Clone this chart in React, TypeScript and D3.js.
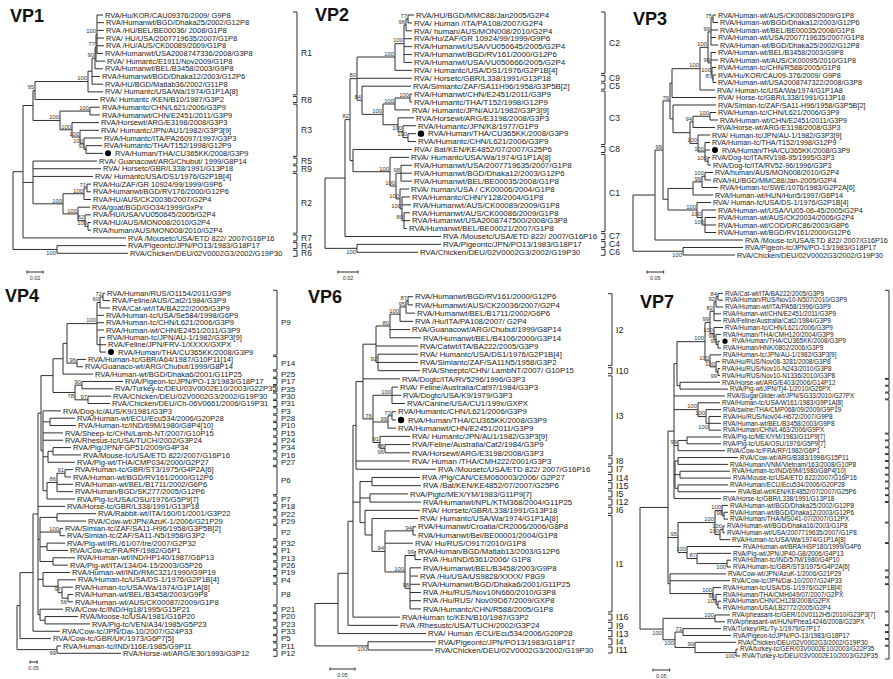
import React from "react";
import * as d3 from "d3";

const FONT = "'Liberation Sans', Arial, Helvetica, sans-serif";
const INK = "#2f2f2f";

// ---------------- VP1 ----------------
const VP1_LABELS = [
  "RVA/Hu/KOR/CAU09376/2009/ G9P8", "RVA/Humanwt/BGD/Dhaka25/2002/G12P8", "RVA /HU/BEL/BE00036/ 2008/G1P8",
  "RVA/ HU/USA/2007719635/2007/G1P8", "RVA /HU/AUS/CK00089/2009/G1P8", "RVA/Humanwt/USA2008747336/2008/G3P8",
  "RVA/ Humantc/E1911/Nov2009/G1P8", "RVA/Humanwt/BEL/B3458/2003/G9P8", "RVA/Humanwt/BGD/Dhaka12/2003/G12P6",
  "RVA/HU/BGD/Matlab36/2002/G11P8", "RVA/ Humantc/USA/Wa/1974/G1P1A[8]", "RVA/ Humantc /KEN/B10/1987/G3P2",
  "RVA/Humantc/CHN/L621/2006/G3P9", "RVA/Humanwt/CHN/E2451/2011/G3P9", "RVA/Horsewt/ARG/E3198/2008/G3P3",
  "RVA/ Humantc/JPN/AU1/1982/G3P3[9]", "RVA/Humantc/ITA/PA26097/1997/G3P3", "RVA/Humantc/THA/T152/1998/G12P9",
  "RVA/Human/THA/CU365KK/2008/G3P9", "RVA/ Guanacowt/ARG/Chubut/ 1999/G8P14", "RVA/ Horsetc/GBR/L338/1991/G13P18",
  "RVA/ Humantc/USA/DS1/1976/G2P1B[4]", "RVA/Hu/ZAF/GR 10924/99/1999/G9P6", "RVA/Humanwt/BGD/RV176/2000/G12P6",
  "RVA/HU/AUS/CK20036/2007/G2P4", "RVA/goat/BGD/GO34/1999/GxPx", "RVA/HU/USA/VU050645/2005/G2P4",
  "RVA/HU/AUS/MON008/2010/G2P4", "RVA/human/AUS/MON008/2010/G2P4", "RVA /Mousetc/USA/ETD 822/ 2007/G16P16",
  "RVA/Pigeontc/JPN/PO13/1983/G18P17", "RVA/Chicken/DEU/02V0002G3/2002/G19P30",
];
// branch lengths in substitutions/site x 1000
const VP1_R1 = "((((((0:7.5,1:8.75,2:8.75,3:8.75,4:8.75,5:7.5)100:1.25,6:11.25)77:1.25,7:10)90:3.75,8:10,9:13.75):5,10:18.75)100:66.25";
const VP1_R3 = "((12:12.5,13:12.5)100:37.5,(14:33.75,(15:23.75,(16:22.5,(17:20,18:21.25)91:2.5)100:5)100:10)100:15)100:33.75";
const VP1_R2 = "(((22:5,23:5)71:3.75,24:8.75)100:26.25,(25:15,(26:7.5,(27:3.75,28:3.75)100:3.75)82:8.75)100:18.75)100:37.5";
const VP1_TREE = "(((" + "(" + VP1_R1 + ",11:78.75)95:2.5," + VP1_R3 + "):12.5,(19:80,20:85,21:75," + VP1_R2 + "):12.5,29:128.75):12.5,(30:86.25,31:88.75)b100:55);";
const VP1_CLADES: [string, number, number][] = [
  ["R1", 0, 10], ["R8", 11, 11], ["R3", 12, 18], ["R5", 19, 19], ["R9", 20, 20], ["R2", 21, 28], ["R7", 29, 29], ["R4", 30, 30], ["R6", 31, 31],
];

// ---------------- VP2 ----------------
const VP2_LABELS = [
  "RVA/HU/BGD/MMC88/Jan2005/G2P4", "RVA/ Human /ITA/PA108/2007/G2P4", "RVA/ human/AUS/MON008/2010/G2P4",
  "RVA/Hu/ZAF/GR 10924/99/1999/G9P6", "RVA/Humanwt/USA/VU050645/2005/G2P4", "RVA/Humanwt/BGD/RV161/2000/G12P6",
  "RVA/Humanwt/USA/VU050666/2005/G2P4", "RVA/ Humantc/USA/DS1/1976/G2P1B[4]", "RVA/ Horsetc/GBR/L338/1991/G13P18",
  "RVA/Simiantc/ZAF/SA11H96/1958/G3P5B[2]", "RVA/Humanwt/CHN/E2451/2011/G3P9", "RVA/Humantc/THA/T152/1998/G12P9",
  "RVA/ Humantc/JPN/AU1/1982/G3P3[9]", "RVA/Horsewt/ARG/E3198/2008/G3P3", "RVA/Humantc/JPN/K8/1977/G1P9",
  "RVA/Human/THA/CU365KK/2008/G3P9", "RVA/Humantc/CHN/L621/2006/G3P9", "RVA/ Bat/KEN/KE4852/07/2007/G25P6",
  "RVA/ Humantc/USA/Wa/1974/G1P1A[8]", "RVA/Humanwt/USA/2007719635/2007/G1P8", "RVA/Humanwt/BGD/Dhaka12/2003/G12P6",
  "RVA/Humanwt/BEL/BE00035/2008/G1P8", "RVA/ human/USA / CK00006/2004/G1P8", "RVA/Humantc/CHN/Y128/2004/G1P8",
  "RVA/Humanwt/AUS/CK00089/2009/G1P8", "RVA/Humanwt/AUS/CK00086/2009/G1P8", "RVA/Humanwt/USA2008747500/2008/G3P8",
  "RVA/Humanwt/BEL/BE00021/2007/G1P8", "RVA /Mousetc/USA/ETD 822/ 2007/G16P16", "RVA/Pigeontc/JPN/PO13/1983/G18P17",
  "RVA/Chicken/DEU/02V0002G3/2002/G19P30",
];
const VP2_C2 = "((((0:6,1:4)77:2,2:6)96:2,3:8,4:8,5:8,6:8)100:9,7:17)100:38";
const VP2_C3 = "(9:49,(((10:2,11:2)100:15,12:15)100:12,(13:16,(14:13,(15:8,16:8)100:5)100:5):15)100:21)84:5";
const VP2_C1 = "(17:59,(18:19,((19:11,20:11,21:11)98:5,(22:9,(23:8,24:9,(25:6,26:6,27:3)80:2)100:2)100:4)100:6)100:37):3";
const VP2_TREE = "(((" + "(" + VP2_C2 + ",8:55," + VP2_C3 + ")80:7," + VP2_C1 + ")82:5,28:96):20,(29:84,30:61)b100:32);";
const VP2_CLADES: [string, number, number][] = [
  ["C2", 0, 7], ["C9", 8, 8], ["C5", 9, 9], ["C3", 10, 16], ["C8", 17, 17], ["C1", 18, 27], ["C7", 28, 28], ["C4", 29, 29], ["C6", 30, 30],
];

// ---------------- VP3 ----------------
const VP3_LABELS = [
  "RVA/Human-wt/AUS/CK00089/2009/G1P8", "RVA/Human-wt/BGD/Dhaka12/2003/G12P6", "RVA/Human-wt/BEL/BE00035/2008/G1P8",
  "RVA/Human-wt/USA/2007719635/2007/G1P8", "RVA/Human-wt/BGD/Dhaka25/2002/G12P8", "RVA/Human-wt/BEL/B3458/2003/G9P8",
  "RVA/Human-wt/AUS/CK00095/2010/G1P8", "RVA/Human-tc/CHN/R588/2005/G1P8", "RVA/Hu/KOR/CAU09-376/2009/ G9P8",
  "RVA/Human-wt/USA2008747322/2008/G3P8", "RVA/ Human-tc/USA/Wa/1974/G1P1A8", "RVA/ Horse-tc/GBR/L338/1991/G13P18",
  "RVA/Simian-tc/ZAF/SA11-H96/1958/G3P5B[2]", "RVA/Human-tc/CHN/L621/2006/G3P9", "RVA/Human-wt/CHN/E2451/2011/G3P9",
  "RVA/Horse-wt/ARG/E3198/2008/G3P3", "RVA/ Human-tc/JPN/AU-1/1982/G3P3[9]", "RVA/Human-tc/THA/T152/1998/G12P9",
  "RVA/Human/THA/CU365KK/2008/G3P9", "RVA/Dog-tc/ITA/RV198-95/1995/G3P3", "RVA/Dog-tc/ITA/RV52-96/1996/G3P3",
  "RVA/human/AUS/MON008/2010/G2P4", "RVA/HU/BGD/MMC88/Jan-2005/G2P4", "RVA/Human-tc/SWE/1076/1983/G2P2A[6]",
  "RVA/Human-wt/HUN/Hun5/1997/G6P14", "RVA/ Human-tc/USA/DS-1/1976/G2P1B[4]", "RVA/Human-wt/USA/VU05-06-45/2005/G2P4",
  "RVA/Human-wt/AUS/CK20034/2006/G2P4", "RVA/Human-wt/COD/DRC86/2003/G8P6", "RVA/Human-wt/BGD/RV161/2000/G12P6",
  "RVA /Mouse-tc/USA/ETD 822/ 2007/G16P16", "RVA/Pigeon-tc/JPN/PO-13/1983/G18P17", "RVA/Chicken/DEU/02V0002G3/2002/G19P30",
];
const VP3_M2 = "((((0:9,1:15)75:6,2:21,3:15,4:21)99:9,(5:15,6:21,(7:12,(8:9,9:9)87:3)100:3)99:9)100:24,10:45)100:84";
const VP3_M3 = "(12:129,(((13:18,14:24)100:51,15:66)94:9,(16:36,(17:15,18:15,(19:6,20:9)100:9)100:21)100:24):51):9";
const VP3_M1 = "((((21:24,22:18)100:9,23:48)99:27,24:60):75,(25:42,(26:42,(27:33,28:33,29:33)100:9)100:15)100:87):15";
const VP3_TREE = "(((((" + VP3_M2 + ",11:132):6," + VP3_M3 + ")79:21," + VP3_M1 + ")99:24,30:264):66,(31:180,32:156)b100:150);";

// ---------------- VP4 ----------------
const VP4_LABELS = [
  "RVA/Human/RUS/O1154/2011/G3P9", "RVA/Feline/AUS/Cat2/1984/G3P9", "RVA/Cat-wt/ITA/BA222/2005/G3P9",
  "RVA/Human-tc/USA/Se584/1998/G6P9", "RVA/Human-tc/CHN/L621/2006/G3P9", "RVA/Human-wt/CHN/E2451/2011/G3P9",
  "RVA/Human-tc/JPN/AU-1/1982/G3P3[9]", "RVA/Feline/JPN/FRV-1/XXXX/GXPX", "RVA/Human/THA/CU365KK/2008/G3P9",
  "RVA/Human-tc/GBR/A64/1987/G10P11[14]", "RVA/Guanaco-wt/ARG/Chubut/1999/G8P14", "RVA/Human-wt/BGD/Dhaka6/2001/G11P25",
  "RVA/Pigeon-tc/JPN/PO-13/1983/G18P17", "RVA/Turkey-tc/DEU/03V0002E10/2003/G22P35", "RVA/Chicken/DEU/02V0002G3/2002/G19P30",
  "RVA/Chicken/DEU/Ch-06V0661/2006/G19P31", "RVA/Dog-tc/AUS/K9/1981/G3P3", "RVA/Human-wt/ECU/Ecu534/2006/G20P28",
  "RVA/Human-tc/IND/69M/1980/G8P4[10]", "RVA/Sheep-tc/CHN/Lamb-NT/2007/G10P15", "RVA/Rhesus-tc/USA/TUCH/2002/G3P24",
  "RVA/Pig/JPN/FGP51/2009/G4P34", "RVA/Mouse-tc/USA/ETD 822/2007/G16P16", "RVA/Pig-wt/THA/CMP034/2000/G2P27",
  "RVA/Human-tc/GBR/ST3/1975/G4P2A[6]", "RVA/Human-wt/BGD/RV161/2000/G12P6", "RVA/Human-wt/BEL/B1711/2002/G6P6",
  "RVA/Human/BGD/SK277/2005/G12P6", "RVA/Pig-tc/USA/OSU/1976/G5P9[7]", "RVA/Horse-tc/GBR/L338/1991/G13P18",
  "RVA/Rabbit-wt/ITA/160/01/2001/G3P22", "RVA/Cow-wt/JPN/AzuK-1/2006/G21P29", "RVA/Simian-tc/ZAF/SA11-H96/1958/G3P5B[2]",
  "RVA/Simian-tc/ZAF/SA11-N5/1958/G3P2", "RVA/Pig-wt/IRL/61/07/Ire/2007/G2P32", "RVA/Cow-tc/FRA/RF/1982/G6P1",
  "RVA/Human-wt/IND/HP140/1987/G6P13", "RVA/Pig-wt/ITA/134/04-15/2003/G5P26", "RVA/Human-wt/IND/RMC321/1990/G9P19",
  "RVA/Human-tc/USA/DS-1/1976/G2P1B[4]", "RVA/Human-tc/USA/Wa/1974/G1P1A[8]", "RVA/Human-wt/BEL/B3458/2003/G9P8",
  "RVA/Human-wt/AUS/CK00087/2009/G1P8", "RVA/Cow-tc/IND/Hg18/1995/G15P21", "RVA/Moose-tc/USA/1981/G16P20",
  "RVA/Pig-tc/VEN/A34/1985/G5P23", "RVA/Cow-tc/JPN/Dai-10/2007/G24P33", "RVA/Cow-tc/GBR/UK/1973/G6P7[5]",
  "RVA/Human-tc/IND/116E/1985/G9P11", "RVA/Horse-wt/ARG/E30/1993/G3P12",
];
const VP4_P9 = "(((0:14,1:49)72:21,2:70)60:21,3:49,4:49,5:49,(6:35,7:42,8:42):21)100:210";
const VP4_AVIAN = "((12:287,13:217)90:49,(14:161,15:154)97:91)b78:154";
const VP4_MID = "(16:126,(17:175,18:182):49,19:140,20:140,((21:126,22:196):35,23:189):35,(((24:56,25:42)91:56,26:112,27:112)86:70,28:196):28):14";
const VP4_LOW1 = "((30:273,31:203):119,(32:21,33:35)100:140,(34:126,35:147):49,(36:154,37:105):91):14";
const VP4_LOW2 = "(38:189,(39:126,(40:77,(41:35,42:35)b56:42)97:28):105):35";
const VP4_LOW3 = "(43:161,(44:231,45:315):35):14";
const VP4_U = "((((" + VP4_P9 + ",(9:63,10:42)96:70):28,11:210):70," + VP4_AVIAN + "):84," + VP4_MID + "):21";
const VP4_TREE = "(((" + "(" + VP4_U + ",29:189," + VP4_LOW1 + "," + VP4_LOW2 + "," + VP4_LOW3 + "):35,46:189):91,47:217):21,(48:28,49:448)b99:280);";
const VP4_CLADES: [string, number, number][] = [
  ["P9", 0, 8], ["P14", 9, 10], ["P25", 11, 11], ["P17", 12, 12], ["P35", 13, 13], ["P30", 14, 14], ["P31", 15, 15],
  ["P3", 16, 16], ["P28", 17, 17], ["P10", 18, 18], ["P15", 19, 19], ["P24", 20, 20], ["P34", 21, 21], ["P16", 22, 22],
  ["P27", 23, 23], ["P6", 24, 27], ["P7", 28, 28], ["P18", 29, 29], ["P22", 30, 30], ["P29", 31, 31], ["P2", 32, 33],
  ["P32", 34, 34], ["P1", 35, 35], ["P13", 36, 36], ["P26", 37, 37], ["P19", 38, 38], ["P4", 39, 39], ["P8", 40, 42],
  ["P21", 43, 43], ["P20", 44, 44], ["P23", 45, 45], ["P33", 46, 46], ["P5", 47, 47], ["P11", 48, 48], ["P12", 49, 49],
];

// ---------------- VP6 ----------------
const VP6_LABELS = [
  "RVA/Humanwt/BGD/RV161/2000/G12P6", "RVA/Humanwt/AUS/CK20036/2007/G2P4", "RVA/Humanwt/BEL/B1711/2002/G6P6",
  "RVA /Hu/ITA/PA108/2007/ G2P4", "RVA/Guanacowt/ARG/Chubut/1999/G8P14", "RVA/Humanwt/BEL/B4106/2000/G3P14",
  "RVA/Catwt/ITA/BA222/2005/G3P9", "RVA/ Humantc/USA/DS1/1976/G2P1B[4]", "RVA/Simiantc/ZAF/SA11N5/1958/G3P2",
  "RVA/Sheeptc/CHN/ LambNT/2007/ G10P15", "RVA/Dogtc/ITA/RV5296/1996/G3P3", "RVA/ Feline/Australia/Cat97/1984/G3P3",
  "RVA/Dogtc/USA/K9/1979/G3P3", "RVA/Canine/USA/CU1/199x/GXPX", "RVA/Humantc/CHN/L621/2006/G3P9",
  "RVA/Human/THA/CU365KK/2008/G3P9", "RVA/Humanwt/CHN/E2451/2011/G3P9", "RVA/ Humantc/JPN/AU1/1982/G3P3[9]",
  "RVA/Feline/Australia/Cat2/1984/G3P9", "RVA/Horsewt/ARG/E3198/2008/G3P3", "RVA/ Human /THA/CMH222/2001/G3P3",
  "RVA /Mousetc/USA/ETD 822/ 2007/G16P16", "RVA /Pig/CAN/CEM060003/2006/ G2P27", "RVA /Bat/KEN/KE4852/07/2007/G25P6",
  "RVA/Pigtc/MEX/YM/1983/G11P9[7]", "RVA/Humanwt/NPL/KTM368/2004/G11P25", "RVA/ Horsetc/GBR/L338/1991/G13P18",
  "RVA/ Humantc/USA/Wa/1974/G1P1A[8]", "RVA/Humanwt/Croatia/CR2006/2006/G8P8", "RVA/Humanwt/Bel/BE00001/2004/G1P8",
  "RVA/ Hu/RUS/O917/2010/G1P8", "RVA/Human/BGD/Matlab13/2003/G12P6", "RVA /Hu/IND/6361/2006/ G1P8",
  "RVA/Humanwt/BEL/B3458/2003/G9P8", "RVA /Hu/USA/US9828/XXXX/ P8G9", "RVA/Humanwt/BGD/Dhaka6/2001/G11P25",
  "RVA /Hu/RUS/Nov10N660/2010/G3P8", "RVA /Hu/RUS/ Nov09D67/2009/GXP8", "RVA/Humantc/CHN/R588/2005/G1P8",
  "RVA/Human tc/KEN/B10/1987/G3P2", "RVA /Rhesustc/USA/TUCH/2002/G3P24", "RVA/ Human /ECU/Ecu534/2006/G20P28",
  "RVA/Pigeontc/JPN/PO13/1983/G18P17", "RVA/Chicken/DEU/02V0002G3/2002/G19P30",
];
const VP6_I2 = "(((((0:10,1:10)87:4,2:18)95:12,3:26)100:20,4:40,5:62)80:28,6:84,(7:80,8:80,9:84)92:4):26";
const VP6_I3 = "((11:12,12:18,13:26)100:38,((14:8,15:8)73:8,16:16)99:30,(17:60,(18:50,19:50)88|96:10)91:14)76:20";
const VP6_I1 = "((22:96,23:98):24,(24:76,25:102):20,(26:110,(27:92,((28:6,29:6)94:56,30:56,((31:2,32:12)99:20,(33:22,34:16,35:20,36:22,37:22,38:22)98:10)100:40)94:26):14):10):14";
const VP6_TREE = "((((((" + VP6_I2 + ",10:74," + VP6_I3 + "):14,20:108,21:160):6," + VP6_I1 + ",39:94):10,40:100):20,41:176):46,(42:136,43:130)b100:106);";
const VP6_CLADES: [string, number, number][] = [
  ["I2", 0, 8], ["I10", 9, 9], ["I3", 10, 19], ["I8", 20, 20], ["I7", 21, 21], ["I14", 22, 22], ["I15", 23, 23], ["I5", 24, 24],
  ["I12", 25, 25], ["I6", 26, 26], ["I1", 27, 38], ["I16", 39, 39], ["I9", 40, 40], ["I13", 41, 41], ["I4", 42, 42], ["I11", 43, 43],
];

// ---------------- VP7 ----------------
const VP7_LABELS = [
  "RVA/Cat-wt/ITA/BA222/2005/G3P9", "RVA/Human/RUS/Nov10-N507/2010/G3P9", "RVA/Human-wt/ITA/PA58/1996/G3P9",
  "RVA/Human-wt/CHN/E2451/2011/G3P9", "RVA/Feline/Australia/Cat2/1984/G3P9", "RVA/Human-tc/CHN/L621/2006/G3P9",
  "RVA/Human/THA/CMH120/2004/G3P9", "RVA/Human/THA/CU365KK/2008/G3P9", "RVA/Human/HNK/0802/2006/G3P9",
  "RVA/Human-tc/JPN/AU-1/1982/G3P3[9]", "RVA/Hu/RUS/Nov08-3281/2008/G3P8", "RVA/Hu/RUS/Nov10-N243/2010/G3P8",
  "RVA/Hu/RUS/Nov10-N1336/2010/G3P8", "RVA/Horse-wt/ARG/E403/2006/G14P12", "RVA/Pig-wt/JPN/Tj4-1/2010/G26PX",
  "RVA/SugarGlider-wt/JPN/SG33/2010/G27PX", "RVA/Human-tc/USA/W161/1983/G9P1A[8]", "RVA/swine/THA/CMP068/09/2009/G9P19",
  "RVA/Hu/RUS/Nov04-H672/2007/G9P8", "RVA/Human-wt/BEL/B3458/2003/G9P8", "RVA/Human/CHN/L463/2006/G9PX",
  "RVA/Pig-tc/MEX/YM/1983/G11P9[7]", "RVA/Pig-tc/USA/OSU/1976/G5P9[7]", "RVA/Cow-tc/FRA/RF/1982/G6P1",
  "RVA/Cow-wt/ARG/B383/1998/G15P11", "RVA/Human/VNM/Vietnam/163/2008/G10P8", "RVA/Human-tc/IND/69M/1980/G8P4[10]",
  "RVA/Mouse-tc/USA/ETD 822/2007/G16P16", "RVA/Human/ECU/Ecu534/2006/G20P28", "RVA/Bat-wt/KEN/KE4852/07/2007/G25P6",
  "RVA/Horse-tc/GBR/L338/1991/G13P18", "RVA/Human-wt/BGD/Dhaka25/2002/G12P8", "RVA/Human-wt/BGD/Dhaka12/2003/G12P6",
  "RVA/Human/THA/MS041-07/2007/G12PX", "RVA/Human-wt/BGD/Dhaka16/2003/G1P8", "RVA/Human-wt/USA/2007719635/2007/G1P8",
  "RVA/Human-tc/USA/Wa/1974/G1P1A[8]", "RVA/Human-wt/BRA/HSP180/1999/G4P6", "RVA/Pig-wt/JPN/JP40-G8/2006/G4P13",
  "RVA/Human-tc/IND/57M/1980/G4P10", "RVA/Human-tc/GBR/ST3/1975/G4P2A[6]", "RVA/Cow-wt/JPN/AzuK-1/2006/G21P29",
  "RVA/Cow-tc/JPN/Dai-10/2007/G24P33", "RVA/Human-tc/USA/DS-1/1976/G2P1B[4]", "RVA/Human/THA/CMH049/07/2007/G2PX",
  "RVA/Human/CHN/CH128/2008/G2PX", "RVA/Human/USA/LB2772/2005/G2P4", "RVA/pheasant-tc/GER/10V0112H5/2010/G23P3[7]",
  "RVA/pheasant-wt/HUN/Phea14246/2008/G23PX", "RVA/Turkey/IRL/Ty-1/1979/G7P17", "RVA/Pigeon-tc/JPN/PO-13/1983/G18P17",
  "RVA/Chicken/DEU/02V0002G3/2002/G19P30", "RVA/turkey-tc/GER/03V0002E10/2003/G22P35", "RVA/Turkey-tc/DEU/03V0002E10/2003/G22P35",
];
const VP7_G3 = "(((((0:15,1:15)84:6,2:21)92:6,3:21,4:21)82:12,(5:27,(6:15,(7:6,8:9)99:6)99:6)100:12)99:15,(9:33,(10:12,(11:6,12:6)b99:6)100:18)100:15)100:84";
const VP7_A1 = "((" + VP7_G3 + ",(13:120,14:144):9):9,15:153,(16:66,(17:45,(18:36,19:36,20:36)b100:9)100:24)100:72,((21:102,22:102):27,23:141)99:12,((24:180,25:150):9,(26:150,27:153):15,(28:150,29:174):9):3,30:141):18";
const VP7_A3 = "(((31:18,(32:12,33:12)98:6)100:21,((34:6,35:6)100:9,36:30)100:15)100:111,(37:162,(38:102,(39:12,40:12)b100:90)87:30)100:27)95:30";
const VP7_A5 = "(41:168,42:180,(43:24,(44:15,(45:9,46:9)100:6)96:9)100:129):6";
const VP7_B = "((47:45,48:30)100:156,((49:114,50:144)73:24,(51:123,(52:6,53:12)b100:123)99:60)b100:36)b100:69";
const VP7_TREE = "((" + VP7_A1 + "," + VP7_A3 + "," + VP7_A5 + "):84," + VP7_B + ");";
// genotype groups of VP7 (their names fall outside the picture, only the brackets show)
const VP7_CLADES: [string, number, number][] = [
  ["G3", 0, 12], ["G14", 13, 13], ["G26", 14, 14], ["G27", 15, 15], ["G9", 16, 20], ["G11", 21, 21], ["G5", 22, 22],
  ["G6", 23, 23], ["G15", 24, 24], ["G10", 25, 25], ["G8", 26, 26], ["G16", 27, 27], ["G20", 28, 28], ["G25", 29, 29],
  ["G13", 30, 30], ["G12", 31, 33], ["G1", 34, 36], ["G4", 37, 40], ["G21", 41, 41], ["G24", 42, 42], ["G2", 43, 46],
  ["G23", 47, 48], ["G7", 49, 49], ["G18", 50, 50], ["G19", 51, 51], ["G22", 52, 53],
];

// ---------------- parsing ----------------
type TNode = { name: string; length: number; children: TNode[] };

function parseNewick(src: string): TNode {
  let i = 0;
  const s = src.trim();
  function node(): TNode {
    const n: TNode = { name: "", length: 0, children: [] };
    if (s[i] === "(") {
      i++;
      n.children.push(node());
      while (s[i] === ",") {
        i++;
        n.children.push(node());
      }
      i++; // ')'
    }
    let name = "";
    while (i < s.length && !",():;".includes(s[i])) name += s[i++];
    n.name = name.trim();
    if (s[i] === ":") {
      i++;
      let num = "";
      while (i < s.length && !",();".includes(s[i])) num += s[i++];
      n.length = parseFloat(num);
    }
    return n;
  }
  return node();
}

interface PanelCfg {
  title: string;
  titleX: number;
  titleY: number;
  labels: string[];
  newick: string;
  rootX: number;
  pxPerUnit: number;
  top: number;
  bottom: number;
  fontSize: number;
  clades: [string, number, number][];
  cladeX: number;
  cladeFont: number;
  cladeNames: boolean;
  bar: { value: number; x: number; y: number };
  dotR: number;
}

const PANELS: PanelCfg[] = [
  { title: "VP1", titleX: 10, titleY: 22, labels: VP1_LABELS, newick: VP1_TREE, rootX: 13, pxPerUnit: 800, top: 15, bottom: 253.3,
    fontSize: 7.5, clades: VP1_CLADES, cladeX: 297, cladeFont: 8.5, cladeNames: true, bar: { value: 0.02, x: 27, y: 272 }, dotR: 3 },
  { title: "VP2", titleX: 315, titleY: 21, labels: VP2_LABELS, newick: VP2_TREE, rootX: 325, pxPerUnit: 1000, top: 15, bottom: 252.3,
    fontSize: 7.9, clades: VP2_CLADES, cladeX: 605, cladeFont: 8.5, cladeNames: true, bar: { value: 0.02, x: 338, y: 272 }, dotR: 3.2 },
  { title: "VP3", titleX: 633, titleY: 25, labels: VP3_LABELS, newick: VP3_TREE, rootX: 633, pxPerUnit: 1000 / 3, top: 15, bottom: 255,
    fontSize: 7.2, clades: [], cladeX: 900, cladeFont: 9.5, cladeNames: false, bar: { value: 0.05, x: 647, y: 272 }, dotR: 3 },
  { title: "VP4", titleX: 5, titleY: 302, labels: VP4_LABELS, newick: VP4_TREE, rootX: 17, pxPerUnit: 1000 / 7, top: 293.3, bottom: 653.3,
    fontSize: 7.6, clades: VP4_CLADES, cladeX: 277, cladeFont: 8, cladeNames: true, bar: { value: 0.05, x: 30, y: 662 }, dotR: 3 },
  { title: "VP6", titleX: 308, titleY: 303, labels: VP6_LABELS, newick: VP6_TREE, rootX: 315, pxPerUnit: 500, top: 296.7, bottom: 650,
    fontSize: 7.8, clades: VP6_CLADES, cladeX: 612, cladeFont: 9, cladeNames: true, bar: { value: 0.05, x: 330, y: 669 }, dotR: 3.2 },
  { title: "VP7", titleX: 640, titleY: 308, labels: VP7_LABELS, newick: VP7_TREE, rootX: 640, pxPerUnit: 1000 / 3, top: 293.3, bottom: 656,
    fontSize: 6.4, clades: VP7_CLADES, cladeX: 889, cladeFont: 9, cladeNames: false, bar: { value: 0.05, x: 653, y: 670 }, dotR: 2.6 },
];

type HNode = d3.HierarchyNode<TNode> & { dist?: number; yy?: number };

function Tree({ cfg }: { cfg: PanelCfg }) {
  const data = React.useMemo(() => parseNewick(cfg.newick), [cfg.newick]);
  const root = d3.hierarchy<TNode>(data, (d) => (d.children.length ? d.children : undefined)) as HNode;
  const x = d3.scaleLinear().domain([0, 1]).range([cfg.rootX, cfg.rootX + cfg.pxPerUnit]);
  const y = d3.scaleLinear().domain([0, cfg.labels.length - 1]).range([cfg.top, cfg.bottom]);

  root.eachBefore((n: HNode) => {
    const p = n.parent as HNode | null;
    n.dist = p ? (p.dist as number) + n.data.length / 1000 : 0;
  });
  root.eachAfter((n: HNode) => {
    if (n.children && n.children.length) {
      const f = n.children[0] as HNode;
      const l = n.children[n.children.length - 1] as HNode;
      n.yy = ((f.yy as number) + (l.yy as number)) / 2;
    } else {
      n.yy = y(+n.data.name);
    }
  });

  const path = d3.path();
  const boots: { x: number; y: number; t: string; below: boolean }[] = [];
  root.each((n: HNode) => {
    if (!n.children) return;
    const nx = x(n.dist as number);
    const f = n.children[0] as HNode;
    const l = n.children[n.children.length - 1] as HNode;
    path.moveTo(nx, f.yy as number);
    path.lineTo(nx, l.yy as number);
    n.children.forEach((c: HNode) => {
      path.moveTo(nx, c.yy as number);
      path.lineTo(x(c.dist as number), c.yy as number);
    });
    const nm = n.data.name;
    if (nm) {
      nm.split("|").forEach((part, k) => {
        const below = part.startsWith("b") || k === 1;
        boots.push({ x: nx - 1, y: n.yy as number, t: part.replace(/^b/, ""), below });
      });
    }
  });

  const leaves = root.leaves() as HNode[];
  const barLen = x(cfg.bar.value) - x(0);

  return (
    <g>
      <text x={cfg.titleX} y={cfg.titleY} fontSize={18} fontWeight="bold" fill="#111">{cfg.title}</text>
      <path d={path.toString()} stroke={INK} strokeWidth={1} fill="none" />
      {boots.map((b, i) => (
        <text key={"b" + i} x={b.x} y={b.below ? b.y + 5.6 : b.y - 1.2} fontSize={5.8} textAnchor="end" fill="#333">{b.t}</text>
      ))}
      {leaves.map((l) => {
        const idx = +l.data.name;
        const lab = cfg.labels[idx];
        const tx = x(l.dist as number);
        const dot = lab.includes("CU365KK");
        return (
          <g key={"l" + idx}>
            {dot && <circle cx={tx + 5} cy={l.yy as number} r={cfg.dotR} fill="#000" />}
            <text x={dot ? tx + 12 : tx + 2} y={l.yy as number} dy="0.35em" fontSize={cfg.fontSize} fill="#222">{lab}</text>
          </g>
        );
      })}
      {cfg.clades.map(([name, a, b]) => {
        const y1 = y(a) - 3;
        const y2 = y(b) + 3;
        const bx = cfg.cladeX;
        return (
          <g key={"c" + name}>
            <path d={`M${bx - 4},${y1}H${bx}V${y2}H${bx - 4}`} stroke={INK} strokeWidth={1} fill="none" />
            {cfg.cladeNames && (
              <text x={bx + 4} y={(y1 + y2) / 2} dy="0.35em" fontSize={cfg.cladeFont} fill="#222">{name}</text>
            )}
          </g>
        );
      })}
      <g>
        <path d={`M${cfg.bar.x},${cfg.bar.y - 1.5}V${cfg.bar.y + 1.5}M${cfg.bar.x},${cfg.bar.y}H${cfg.bar.x + barLen}M${cfg.bar.x + barLen},${cfg.bar.y - 1.5}V${cfg.bar.y + 1.5}`}
          stroke={INK} strokeWidth={1} fill="none" />
        <text x={cfg.bar.x + barLen / 2} y={cfg.bar.y + 8} fontSize={5.5} textAnchor="middle" fill="#333">{String(cfg.bar.value)}</text>
      </g>
    </g>
  );
}

export default function App() {
  return (
    <svg width={893} height={679} viewBox="0 0 893 679" fontFamily={FONT}
      style={{ position: "absolute", left: 0, top: 0, background: "#fff" }}>
      <rect x={0} y={0} width={893} height={679} fill="#fff" />
      {PANELS.map((p) => (
        <Tree key={p.title} cfg={p} />
      ))}
    </svg>
  );
}
